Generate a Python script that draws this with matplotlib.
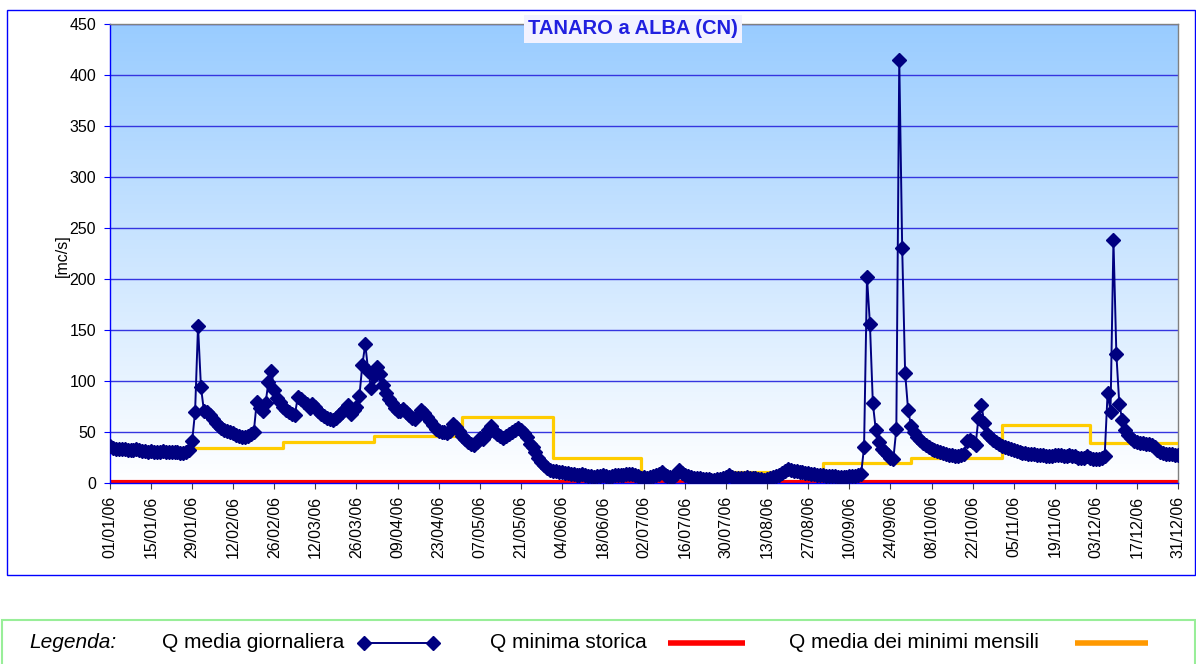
import numpy as np
import pandas as pd
import matplotlib
matplotlib.use("Agg")
import matplotlib.pyplot as plt
from matplotlib.colors import LinearSegmentedColormap
from matplotlib.patches import Rectangle
from matplotlib.lines import Line2D

plt.rcParams['font.family'] = ['Liberation Sans', 'DejaVu Sans']

# ---------------------------------------------------------
# dati: portata media giornaliera 2006 (mc/s), un valore al giorno
# ---------------------------------------------------------
q_gen = [36, 34, 33, 33, 33, 33, 32, 32, 32, 33, 32, 31, 31, 30, 31, 30, 30, 30, 31, 30,
         30, 30, 30, 30, 29, 29, 30, 32, 41, 70, 154]
q_feb = [94, 71, 70, 67, 63, 59, 56, 54, 52, 51, 50, 49, 47, 46, 45, 45, 46, 48, 50, 79,
         74, 71, 78, 99, 110, 91, 83, 79]
q_mar = [75, 72, 70, 68, 67, 84, 82, 79, 77, 74, 77, 75, 71, 68, 66, 64, 63, 62, 64, 67,
         70, 73, 76, 68, 72, 75, 85, 116, 136, 110, 93]
q_apr = [105, 114, 107, 96, 88, 82, 78, 74, 71, 71, 73, 70, 67, 64, 63, 67, 72, 69, 65, 61,
         57, 53, 51, 50, 50, 49, 51, 58, 55, 51]
q_mag = [46, 43, 40, 38, 37, 40, 44, 43, 47, 52, 56, 51, 48, 46, 44, 46, 48, 50, 52, 54,
         52, 49, 45, 38, 35, 30, 25, 21, 18, 15, 13]
q_giu = [12, 12, 11, 11, 10, 10, 9, 9, 8, 8, 9, 8, 7, 7, 6, 7, 7, 8, 7, 6,
         7, 8, 8, 8, 8, 9, 9, 9, 8, 7]
q_lug = [5, 6, 5, 6, 7, 8, 9, 11, 8, 7, 6, 6, 9, 13, 10, 8, 7, 6, 5, 5,
         5, 4, 4, 4, 3, 3, 4, 4, 5, 6, 8]
q_ago = [6, 5, 5, 5, 5, 6, 5, 5, 5, 4, 4, 3, 4, 5, 6, 7, 8, 10, 12, 14,
         13, 12, 12, 11, 11, 10, 10, 9, 9, 8, 8]
q_set = [8, 7, 7, 7, 7, 6, 6, 6, 6, 7, 7, 7, 8, 9, 35, 202, 156, 78, 52, 40,
         33, 30, 27, 25, 24, 53, 415, 230, 108, 72]
q_ott = [56, 50, 45, 42, 39, 37, 35, 33, 32, 31, 30, 29, 28, 27, 27, 26, 26, 27, 28, 41,
         42, 40, 37, 64, 76, 59, 48, 45, 42, 40, 38]
q_nov = [36, 35, 34, 33, 32, 31, 30, 29, 29, 28, 28, 28, 27, 27, 27, 26, 26, 26, 27, 27,
         27, 26, 26, 27, 26, 26, 25, 25, 25, 26]
q_dic = [25, 24, 24, 24, 25, 26, 88, 70, 238, 126, 77, 62, 52, 47, 44, 41, 40, 39, 39, 38,
         38, 37, 35, 32, 30, 29, 28, 28, 28, 27, 27]

q_giornaliera = np.array(q_gen + q_feb + q_mar + q_apr + q_mag + q_giu +
                         q_lug + q_ago + q_set + q_ott + q_nov + q_dic, dtype=float)

# medie dei minimi mensili e minimo storico (un valore per mese)
q_media_minimi = [34, 34, 40, 46, 65, 25, 6, 11, 20, 25, 57, 39]
q_minima_storica = [1, 1, 1, 1, 1, 1, 1, 1, 1, 1, 1, 1]

date = pd.date_range("2006-01-01", "2006-12-31", freq="D")
giorni = np.arange(len(date))
inizio_mese = [int(np.where((date.day == 1) & (date.month == m))[0][0]) for m in range(1, 13)]
x_mesi = inizio_mese + [len(date) - 1]

tick_pos = giorni[::14]
tick_lab = [d.strftime("%d/%m/%y") for d in date[::14]]

# ---------------------------------------------------------
# figura
# ---------------------------------------------------------
W, H = 1196, 664
fig = plt.figure(figsize=(W / 100, H / 100), dpi=100)
ax = fig.add_axes([110 / W, 1 - 483 / H, (1178 - 110) / W, (483 - 24) / H])

# sfondo sfumato azzurro -> bianco
cmap = LinearSegmentedColormap.from_list("bg", ["#FFFFFF", "#99CCFF"])
ax.imshow(np.linspace(0, 1, 256)[:, None], extent=[0, 364, 0, 450], origin="lower",
          aspect="auto", cmap=cmap, zorder=0)

for yv in range(50, 451, 50):
    ax.axhline(yv, color="#3535E0", lw=1, zorder=1)

ax.step(x_mesi, q_minima_storica + [q_minima_storica[-1]], where="post",
        color="#FF0000", lw=3, zorder=2, solid_capstyle="butt")
ax.step(x_mesi, q_media_minimi + [q_media_minimi[-1]], where="post",
        color="#FFCC00", lw=2.3, zorder=3)
ax.plot(giorni, q_giornaliera, color="#000080", lw=1.4, marker="D", ms=6.8,
        markeredgecolor="#000080", markerfacecolor="#000080", zorder=4)

ax.set_xlim(0, 364)
ax.set_ylim(0, 450)
ax.set_yticks(range(0, 451, 50))
ax.set_xticks(tick_pos)
ax.set_xticklabels(tick_lab, rotation=90, fontsize=11.5)
ax.tick_params(axis="y", direction="out", length=4, color="#0000FF", labelsize=11.5, pad=6)
ax.tick_params(axis="x", direction="out", length=4, color="#404040", pad=5)

ax.spines["left"].set_color("#0000FF")
ax.spines["bottom"].set_color("#0000FF")
ax.spines["top"].set_color("#808080")
ax.spines["right"].set_color("#808080")
for s in ax.spines.values():
    s.set_linewidth(1)

ax.set_ylabel("[mc/s]", fontsize=11.5)
ax.yaxis.set_label_coords((70 - 110) / 1068, (483 - 256) / 459)

fig.text(633 / W, 1 - 29 / H, "TANARO a ALBA (CN)", ha="center", va="center",
         fontsize=14.5, fontweight="bold", color="#2020E0",
         bbox=dict(facecolor="#F2F2FF", edgecolor="none", pad=3))

# cornice del grafico
fig.add_artist(Rectangle((7 / W, 1 - 575 / H), (1195 - 7) / W, (575 - 10) / H,
                         transform=fig.transFigure, fill=False, edgecolor="#0000FF", lw=1))

# legenda manuale
fig.add_artist(Rectangle((2 / W, -0.01), (1195 - 2) / W, (664 - 620) / H + 0.01,
                         transform=fig.transFigure, fill=False, edgecolor="#99EE99", lw=1.5))
yl = 1 - 643 / H
fs_leg = 15
fig.text(29 / W, yl, "Legenda:", style="italic", fontsize=fs_leg, va="center")
fig.text(162 / W, yl, "Q media giornaliera", fontsize=fs_leg, va="center")
fig.add_artist(Line2D([364 / W, 433 / W], [yl, yl], transform=fig.transFigure,
                      color="#000080", lw=1.4, marker="D", ms=6.8, markevery=[0, 1]))
fig.text(490 / W, yl, "Q minima storica", fontsize=fs_leg, va="center")
fig.add_artist(Line2D([668 / W, 745 / W], [yl, yl], transform=fig.transFigure,
                      color="#FF0000", lw=4, solid_capstyle="butt"))
fig.text(789 / W, yl, "Q media dei minimi mensili", fontsize=fs_leg, va="center")
fig.add_artist(Line2D([1075 / W, 1148 / W], [yl, yl], transform=fig.transFigure,
                      color="#FF9900", lw=4, solid_capstyle="butt"))

fig.savefig("out.png", dpi=100)
